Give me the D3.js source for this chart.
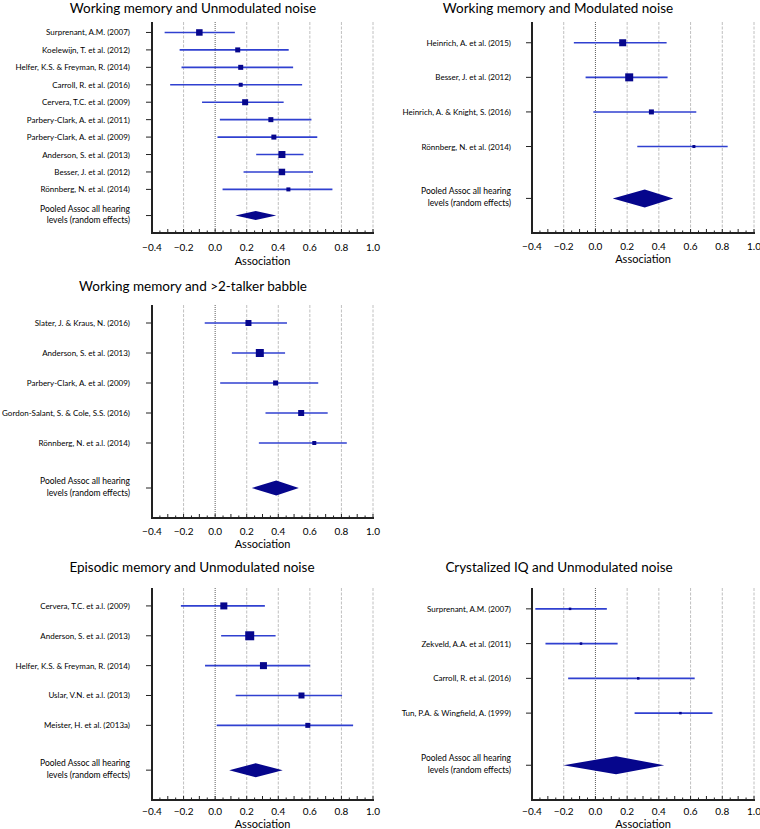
<!DOCTYPE html>
<html>
<head>
<meta charset="utf-8">
<script src="https://cdn.jsdelivr.net/npm/d3@7"></script>
<style>
  html, body { margin: 0; padding: 0; background: #fff; }
  svg { display: block; font-family: Lato, "Open Sans", sans-serif; }
</style>
</head>
<body>
<svg id="chart" width="760" height="829"></svg>
<script>
// ---------- DATA ----------
const xTickValues = [-0.4, -0.2, 0.0, 0.2, 0.4, 0.6, 0.8, 1.0];
const pooledLabel = ["Pooled Assoc all hearing", "levels (random effects)"];

// Panel 1: Working memory and Unmodulated noise
const p1Title = "Working memory and Unmodulated noise";
const p1Studies = ["Surprenant,  A.M. (2007)", "Koelewijn, T. et al. (2012)", "Helfer, K.S. & Freyman, R. (2014)",
  "Carroll, R. et al. (2016)", "Cervera, T.C. et al. (2009)", "Parbery-Clark, A. et al. (2011)",
  "Parbery-Clark, A. et al. (2009)", "Anderson, S. et al. (2013)", "Besser, J. et al. (2012)", "Rönnberg, N. et al. (2014)"];
const p1Est = [-0.10, 0.143, 0.162, 0.162, 0.19, 0.353, 0.372, 0.423, 0.423, 0.464];
const p1Lo  = [-0.32, -0.225, -0.213, -0.285, -0.083, 0.03, 0.015, 0.26, 0.18, 0.047];
const p1Hi  = [0.125, 0.466, 0.494, 0.551, 0.434, 0.61, 0.647, 0.56, 0.62, 0.743];
const p1Weight = [6.5, 5, 5, 4, 6, 5, 5, 7, 6.5, 4];
const p1Pooled = [0.128, 0.257, 0.387];

// Panel 2: Working memory and Modulated noise
const p2Title = "Working memory and Modulated noise";
const p2Studies = ["Heinrich, A. et al. (2015)", "Besser, J. et al. (2012)", "Heinrich, A. & Knight, S. (2016)", "Rönnberg, N. et al. (2014)"];
const p2Est = [0.172, 0.213, 0.353, 0.621];
const p2Lo  = [-0.136, -0.062, -0.013, 0.264];
const p2Hi  = [0.449, 0.455, 0.636, 0.834];
const p2Weight = [7, 8, 5, 3];
const p2Pooled = [0.109, 0.311, 0.491];

// Panel 3: Working memory and >2-talker babble
const p3Title = "Working memory and >2-talker babble";
const p3Studies = ["Slater, J. & Kraus, N. (2016)", "Anderson, S. et al. (2013)", "Parbery-Clark, A. et al. (2009)",
  "Gordon-Salant, S. & Cole, S.S. (2016)", "Rönnberg, N. et a.l. (2014)"];
const p3Est = [0.211, 0.283, 0.383, 0.545, 0.628];
const p3Lo  = [-0.066, 0.106, 0.032, 0.319, 0.277];
const p3Hi  = [0.455, 0.443, 0.653, 0.713, 0.834];
const p3Weight = [6, 8, 5, 6, 4];
const p3Pooled = [0.232, 0.387, 0.53];

// Panel 4: Episodic memory and Unmodulated noise
const p4Title = "Episodic memory and Unmodulated noise";
const p4Studies = ["Cervera, T.C. et a.l. (2009)", "Anderson, S. et a.l. (2013)", "Helfer, K.S. & Freyman, R. (2014)",
  "Uslar, V.N. et a.l. (2013)", "Meister, H. et al. (2013a)"];
const p4Est = [0.055, 0.219, 0.306, 0.547, 0.587];
const p4Lo  = [-0.217, 0.038, -0.064, 0.13, 0.01];
const p4Hi  = [0.315, 0.383, 0.602, 0.804, 0.874];
const p4Weight = [7, 9, 7, 6, 5];
const p4Pooled = [0.089, 0.257, 0.428];

// Panel 5: Crystalized IQ and Unmodulated noise
const p5Title = "Crystalized IQ and Unmodulated noise";
const p5Studies = ["Surprenant,  A.M. (2007)", "Zekveld, A.A. et al. (2011)", "Carroll, R. et al. (2016)", "Tun, P.A. & Wingfield, A. (1999)"];
const p5Est = [-0.16, -0.091, 0.27, 0.536];
const p5Lo  = [-0.379, -0.315, -0.172, 0.247];
const p5Hi  = [0.072, 0.14, 0.626, 0.738];
const p5Weight = [2.5, 2.5, 2.5, 2.5];
const p5Pooled = [-0.202, 0.13, 0.434];

// ---------- LAYOUT ----------
const panels = [
  { title: p1Title, studies: p1Studies, est: p1Est, lo: p1Lo, hi: p1Hi, w: p1Weight, pooled: p1Pooled,
    x0: 152, x1: 373, top: 22, bottom: 233, titleX: 193, titleY: 13, labelX: 130, tickDy: 18, axDy: 32, diamondH: 9 },
  { title: p2Title, studies: p2Studies, est: p2Est, lo: p2Lo, hi: p2Hi, w: p2Weight, pooled: p2Pooled,
    x0: 532, x1: 754, top: 22, bottom: 233, titleX: 558, titleY: 13, labelX: 511, tickDy: 17, axDy: 30, diamondH: 18 },
  { title: p3Title, studies: p3Studies, est: p3Est, lo: p3Lo, hi: p3Hi, w: p3Weight, pooled: p3Pooled,
    x0: 152, x1: 373, top: 305, bottom: 518, titleX: 193, titleY: 291, labelX: 130, tickDy: 17, axDy: 30, diamondH: 15 },
  { title: p4Title, studies: p4Studies, est: p4Est, lo: p4Lo, hi: p4Hi, w: p4Weight, pooled: p4Pooled,
    x0: 152, x1: 373, top: 588, bottom: 800, titleX: 192, titleY: 572, labelX: 130, tickDy: 15, axDy: 28, diamondH: 14 },
  { title: p5Title, studies: p5Studies, est: p5Est, lo: p5Lo, hi: p5Hi, w: p5Weight, pooled: p5Pooled,
    x0: 532, x1: 754, top: 588, bottom: 800, titleX: 559, titleY: 572, labelX: 511, tickDy: 15, axDy: 28, diamondH: 18 }
];

const ciColor = "#3040d0";
const markColor = "#06068c";
const textColor = "#000";
const svg = d3.select("#chart");

panels.forEach(p => {
  const g = svg.append("g");
  const n = p.studies.length;
  const x = d3.scaleLinear().domain([-0.4, 1.0]).range([p.x0, p.x1]);
  const y = d3.scaleLinear().domain([0, n + 2.1]).range([p.top, p.bottom]);
  const rowY = i => y(i + 0.6);
  const pooledY = y(n + 1.1);

  // title
  g.append("text").attr("x", p.titleX).attr("y", p.titleY)
    .attr("text-anchor", "middle").attr("font-size", 13.5).attr("fill", textColor)
    .text(p.title);

  // grid lines
  g.selectAll("line.grid").data(xTickValues.filter(v => v > -0.4)).enter().append("line")
    .attr("x1", d => x(d)).attr("x2", d => x(d))
    .attr("y1", p.top).attr("y2", p.bottom)
    .attr("stroke", d => Math.abs(d) < 1e-9 ? "#333" : "#b0b0b0")
    .attr("stroke-width", 0.8)
    .attr("stroke-dasharray", d => Math.abs(d) < 1e-9 ? "1,1" : "3,1.5");

  // x axis minor/major ticks (pointing inward)
  const minor = d3.range(-0.4, 1.0001, 0.05);
  g.selectAll("line.tk").data(minor).enter().append("line")
    .attr("x1", d => x(d)).attr("x2", d => x(d))
    .attr("y1", p.bottom)
    .attr("y2", (d) => {
      const isMajor = Math.abs(Math.round(d * 10) - d * 10) < 1e-6;
      return p.bottom - (isMajor ? 4 : 2.5);
    })
    .attr("stroke", "#222").attr("stroke-width", 1);

  // x axis line
  g.append("line").attr("x1", p.x0 - 1).attr("x2", p.x1 + 1)
    .attr("y1", p.bottom).attr("y2", p.bottom)
    .attr("stroke", "#222").attr("stroke-width", 2);

  // x tick labels
  g.selectAll("text.tl").data(xTickValues).enter().append("text")
    .attr("x", d => x(d)).attr("y", p.bottom + p.tickDy)
    .attr("text-anchor", "middle").attr("font-size", 10).attr("fill", textColor)
    .text(d => d3.format(".1f")(d));

  g.append("text").attr("x", (p.x0 + p.x1) / 2).attr("y", p.bottom + p.axDy)
    .attr("text-anchor", "middle").attr("font-size", 11).attr("fill", textColor)
    .text("Association");

  // y axis line
  g.append("line").attr("x1", p.x0).attr("x2", p.x0)
    .attr("y1", p.top).attr("y2", p.bottom + 1)
    .attr("stroke", "#222").attr("stroke-width", 2);

  // y ticks
  const tickYs = d3.range(n).map(rowY).concat([pooledY]);
  g.selectAll("line.yt").data(tickYs).enter().append("line")
    .attr("x1", p.x0 - 6).attr("x2", p.x0)
    .attr("y1", d => d).attr("y2", d => d)
    .attr("stroke", "#222").attr("stroke-width", 1);

  // study labels
  g.selectAll("text.lab").data(p.studies).enter().append("text")
    .attr("x", p.labelX).attr("y", (d, i) => rowY(i) + 3)
    .attr("text-anchor", "end").attr("font-size", 8).attr("fill", textColor)
    .text(d => d);

  // pooled label
  pooledLabel.forEach((t, k) => {
    g.append("text").attr("x", p.labelX).attr("y", pooledY - 4 + k * 11.5)
      .attr("text-anchor", "end").attr("font-size", 8.5).attr("fill", textColor)
      .text(t);
  });

  // CI lines
  g.selectAll("line.ci").data(p.est).enter().append("line")
    .attr("x1", (d, i) => x(p.lo[i])).attr("x2", (d, i) => x(p.hi[i]))
    .attr("y1", (d, i) => rowY(i)).attr("y2", (d, i) => rowY(i))
    .attr("stroke", ciColor).attr("stroke-width", 1.6);

  // squares
  g.selectAll("rect.pt").data(p.est).enter().append("rect")
    .attr("x", (d, i) => x(d) - p.w[i] / 2).attr("y", (d, i) => rowY(i) - p.w[i] / 2)
    .attr("width", (d, i) => p.w[i]).attr("height", (d, i) => p.w[i])
    .attr("fill", markColor);

  // pooled diamond
  const [plo, pest, phi] = p.pooled;
  const h = p.diamondH / 2;
  g.append("path")
    .attr("d", `M${x(plo)},${pooledY} L${x(pest)},${pooledY - h} L${x(phi)},${pooledY} L${x(pest)},${pooledY + h} Z`)
    .attr("fill", markColor);
});
</script>
</body>
</html>
